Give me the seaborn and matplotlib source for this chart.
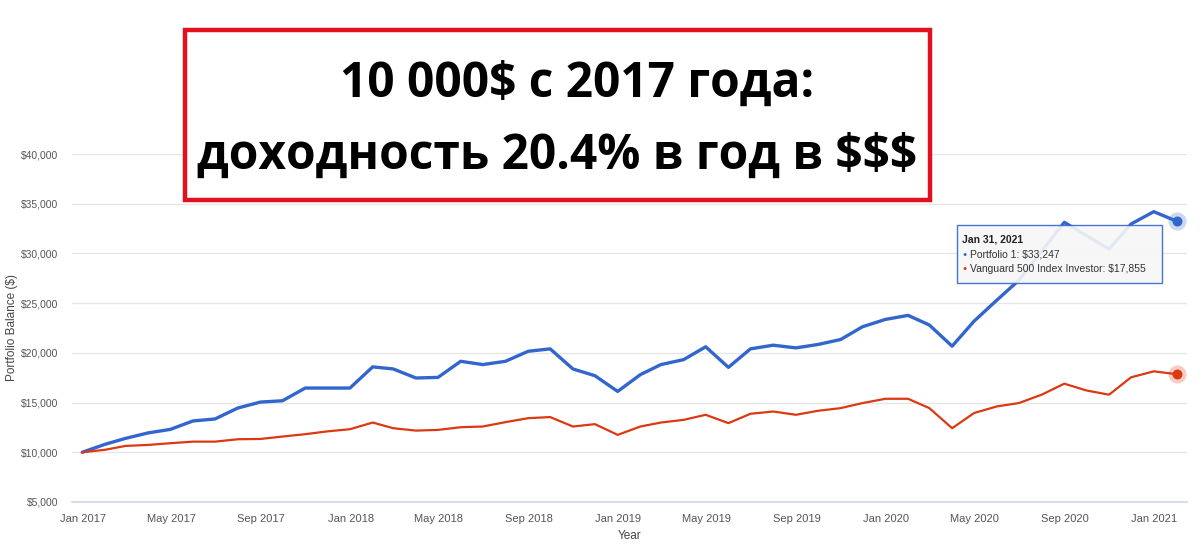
import pandas as pd
import numpy as np
import seaborn as sns
import matplotlib.pyplot as plt
import matplotlib.dates as mdates
from matplotlib.patches import Rectangle
from matplotlib.ticker import FuncFormatter

# -----------------------------
# Data (month-end balances)
# -----------------------------
dates = pd.date_range("2016-12-31", "2021-01-31", freq="ME")

portfolio_1 = [10000, 10800, 11400, 11950, 12300, 13150, 13350, 14450, 15050, 15180,
               16460, 16460, 16460, 18590, 18380, 17470, 17530, 19150, 18820, 19150,
               20160, 20400, 18380, 17700, 16120, 17810, 18820, 19320, 20610, 18540,
               20400, 20770, 20500, 20840, 21340, 22630, 23360, 23770, 22800, 20670,
               23190, 25300, 27300, 30200, 33130, 31800, 30430, 32960, 34200, 33247]

vanguard_500 = [10000, 10250, 10640, 10740, 10910, 11070, 11070, 11310, 11340, 11580,
                11820, 12100, 12320, 12990, 12420, 12180, 12250, 12520, 12590, 13030,
                13430, 13540, 12590, 12830, 11750, 12590, 12990, 13260, 13770, 12930,
                13870, 14100, 13770, 14170, 14440, 14950, 15380, 15380, 14440, 12420,
                13950, 14610, 14950, 15790, 16900, 16220, 15790, 17540, 18140, 17855]

series_names = ["Portfolio 1", "Vanguard 500 Index Investor"]
series_colors = ["#3366cc", "#dc3912"]
y_ticks = [5000, 10000, 15000, 20000, 25000, 30000, 35000, 40000]

title_line_1 = "10 000$ с 2017 года:"
title_line_2 = "доходность 20.4% в год в $$$"
tooltip_date = "Jan 31, 2021"

df = pd.DataFrame({
    "Date": np.tile(dates, 2),
    "Balance": portfolio_1 + vanguard_500,
    "Series": np.repeat(series_names, len(dates)),
})

# -----------------------------
# Plot
# -----------------------------
sns.set_style("white")
plt.rcParams["font.family"] = ["Liberation Sans", "DejaVu Sans"]

fig = plt.figure(figsize=(12, 5.59), dpi=100)
ax = fig.add_axes([0.06, 0.102, 0.929, 0.6225])

sns.lineplot(data=df, x="Date", y="Balance", hue="Series", hue_order=series_names,
             palette=series_colors, ax=ax, legend=False)
ax.lines[0].set_linewidth(2.4)
ax.lines[1].set_linewidth(1.6)

# end-point markers with halo
for vals, col in zip([portfolio_1, vanguard_500], series_colors):
    ax.scatter([dates[-1]], [vals[-1]], s=170, color=col, alpha=0.25, linewidths=0,
               zorder=4, clip_on=False)
    ax.scatter([dates[-1]], [vals[-1]], s=38, color=col, zorder=5, clip_on=False)

ax.set_ylim(5000, 40000)
ax.set_xlim(pd.Timestamp("2016-12-17"), pd.Timestamp("2021-02-14"))
ax.set_yticks(y_ticks)
ax.yaxis.set_major_formatter(FuncFormatter(lambda v, p: f"${v:,.0f}"))
ax.xaxis.set_major_locator(mdates.MonthLocator(bymonth=[1, 5, 9]))
ax.xaxis.set_major_formatter(mdates.DateFormatter("%b %Y"))

ax.grid(axis="y", color="#e6e6e6", linewidth=1)
ax.grid(axis="x", visible=False)
for s in ["top", "right", "left"]:
    ax.spines[s].set_visible(False)
ax.spines["bottom"].set_color("#ccd6eb")
ax.spines["bottom"].set_linewidth(1.2)
ax.tick_params(axis="y", length=0, pad=10, labelsize=7.5, labelcolor="#555555")
ax.tick_params(axis="x", length=7, width=1, color="#ccd6eb", pad=2,
               labelsize=8, labelcolor="#555555")

ax.set_xlabel("Year", fontsize=8.5, color="#444444", labelpad=4)
ax.set_ylabel("Portfolio Balance ($)", fontsize=8.5, color="#444444", labelpad=2)

# tooltip
fig.patches.append(Rectangle((0.7975, 0.4937), 0.1708, 0.1038, transform=fig.transFigure,
                             facecolor="#f7f7f7", alpha=0.9, edgecolor="#3366cc",
                             linewidth=1, zorder=10))
fig.text(0.802, 0.571, tooltip_date, fontsize=7.5, fontweight="bold", color="#222222",
         va="center", zorder=11)
for k, (name, vals, col) in enumerate(zip(series_names, [portfolio_1, vanguard_500],
                                           series_colors)):
    yy = 0.544 - k * 0.025
    fig.text(0.802, yy, "●", fontsize=5, color=col, va="center", zorder=11)
    fig.text(0.808, yy, f"{name}: ${vals[-1]:,}", fontsize=7.5, color="#333333",
             va="center", zorder=11)

# title box
fig.patches.append(Rectangle((0.1542, 0.6422), 0.6208, 0.3041, transform=fig.transFigure,
                             facecolor="white", edgecolor="#e3101e", linewidth=3.2,
                             zorder=10))
fig.text(0.481, 0.85, title_line_1, fontsize=34.5, fontweight="bold", color="black",
         ha="center", va="center", family=["Open Sans", "DejaVu Sans"], zorder=11)
fig.text(0.464, 0.72, title_line_2, fontsize=34.5, fontweight="bold", color="black",
         ha="center", va="center", family=["Open Sans", "DejaVu Sans"], zorder=11)

fig.savefig("out.png", dpi=100)
